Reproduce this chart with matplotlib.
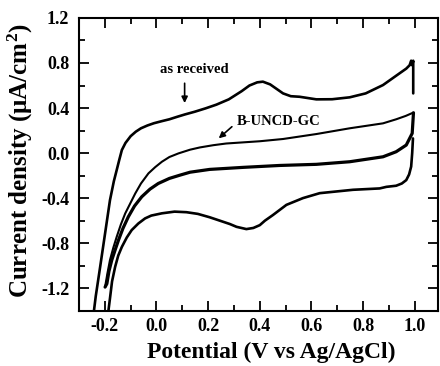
import matplotlib
matplotlib.use("Agg")
import matplotlib.pyplot as plt
from matplotlib.ticker import MultipleLocator

plt.rcParams['font.family'] = ['Liberation Serif', 'DejaVu Serif']
plt.rcParams['font.weight'] = 'bold'
plt.rcParams['mathtext.fontset'] = 'custom'
plt.rcParams['mathtext.rm'] = 'Liberation Serif:bold'
plt.rcParams['mathtext.it'] = 'Liberation Serif:bold'

# as received electrode, forward (anodic) sweep
recv_fwd_x = [-0.242, -0.235, -0.218, -0.199, -0.18, -0.165, -0.154, -0.144, -0.134, -0.12, -0.10, -0.08,
              -0.06, -0.035, -0.01, 0.02, 0.05, 0.08, 0.11, 0.148, 0.19, 0.232, 0.28, 0.33, 0.36, 0.39,
              0.412, 0.44, 0.465, 0.49, 0.52, 0.554, 0.619, 0.68, 0.748, 0.81, 0.877, 0.941, 0.967,
              0.98, 0.986, 0.99, 0.994, 0.994]
recv_fwd_y = [-1.40, -1.27, -1.01, -0.714, -0.418, -0.25, -0.151, -0.06, 0.027, 0.09, 0.15, 0.19,
              0.22, 0.245, 0.265, 0.283, 0.30, 0.322, 0.343, 0.367, 0.397, 0.43, 0.477, 0.55, 0.60, 0.628,
              0.634, 0.61, 0.57, 0.53, 0.505, 0.50, 0.477, 0.478, 0.495, 0.53, 0.604, 0.708, 0.75,
              0.78, 0.82, 0.78, 0.82, 0.53]
# as received electrode, reverse (cathodic) sweep
recv_rev_x = [0.993, 0.99, 0.986, 0.978, 0.967, 0.95, 0.928, 0.89, 0.864, 0.761, 0.632, 0.567, 0.503,
              0.451, 0.42, 0.40, 0.375, 0.348, 0.31, 0.284, 0.245, 0.206, 0.16, 0.116, 0.07, 0.021,
              -0.02, -0.044, -0.07, -0.096, -0.115, -0.134, -0.148, -0.16, -0.172, -0.18, -0.186]
recv_rev_y = [0.13, 0.0, -0.12, -0.19, -0.24, -0.27, -0.29, -0.30, -0.314, -0.326, -0.356, -0.40, -0.46,
              -0.55, -0.60, -0.64, -0.665, -0.675, -0.655, -0.63, -0.60, -0.57, -0.54, -0.525, -0.52,
              -0.535, -0.555, -0.58, -0.625, -0.684, -0.75, -0.833, -0.91, -1.01, -1.14, -1.29, -1.40]

# B-UNCD-GC electrode, forward sweep
bnd_fwd_x = [-0.199, -0.19, -0.18, -0.167, -0.154, -0.138, -0.121, -0.1, -0.082, -0.06, -0.031, -0.005,
             0.021, 0.05, 0.085, 0.13, 0.168, 0.22, 0.27, 0.4, 0.49, 0.619, 0.748, 0.877, 0.928, 0.965,
             0.993]
bnd_fwd_y = [-1.19, -1.07, -0.95, -0.84, -0.744, -0.635, -0.536, -0.44, -0.358, -0.27, -0.18, -0.125,
             -0.077, -0.035, -0.003, 0.03, 0.05, 0.07, 0.085, 0.105, 0.125, 0.169, 0.22, 0.264, 0.3, 0.33,
             0.358]
# B-UNCD-GC electrode, reverse sweep
bnd_rev_x = [0.995, 0.99, 0.967, 0.928, 0.877, 0.748, 0.619, 0.477, 0.335, 0.206, 0.13, 0.091, 0.05,
             0.007, -0.025, -0.057, -0.085, -0.109, -0.13, -0.147, -0.16, -0.173, -0.184, -0.192, -0.199]
bnd_rev_y = [0.358, 0.175, 0.071, 0.012, -0.033, -0.077, -0.1, -0.11, -0.127, -0.145, -0.17, -0.196,
             -0.225, -0.27, -0.32, -0.388, -0.47, -0.566, -0.67, -0.773, -0.86, -0.95, -1.05, -1.16, -1.19]

fig = plt.figure(figsize=(4.4, 3.66), dpi=100)
ax = fig.add_axes([0.1795, 0.151, 0.816, 0.80])

kw = dict(color='black', solid_joinstyle='round', solid_capstyle='round')
ax.plot(recv_fwd_x, recv_fwd_y, lw=1.9, **kw)
ax.plot(recv_rev_x, recv_rev_y, lw=1.9, **kw)
ax.plot(bnd_fwd_x, bnd_fwd_y, lw=1.5, **kw)
ax.plot(bnd_rev_x, bnd_rev_y, lw=2.3, **kw)

ax.set_xlim(-0.3, 1.09)
ax.set_ylim(-1.4, 1.2)
ax.xaxis.set_minor_locator(MultipleLocator(0.1))
ax.yaxis.set_minor_locator(MultipleLocator(0.2))
ax.tick_params(which='both', direction='in', top=True, right=True, width=1.3, labelsize=13)
ax.tick_params(which='major', length=7)
ax.tick_params(which='minor', length=4)
ax.tick_params(axis='x', which='major', pad=5)
ax.tick_params(axis='y', which='major', pad=7)
ax.set_xticks([-0.2, 0.0, 0.2, 0.4, 0.6, 0.8, 1.0])
ax.set_xticklabels(['-0.2', '0.0', '0.2', '0.4', '0.6', '0.8', '1.0'])
ax.set_yticks([-1.2, -0.8, -0.4, 0.0, 0.4, 0.8, 1.2])
ax.set_yticklabels(['-1.2', '-0.8', '-0.4', '0.0', '0.4', '0.8', '1.2'])
for s in ax.spines.values():
    s.set_linewidth(1.5)

ax.set_xlabel('Potential (V vs Ag/AgCl)', fontsize=17, fontweight='bold')
ax.xaxis.set_label_coords(0.535, -0.105)
ax.set_ylabel('Current density ($\\mu$A/cm$^2$)', fontsize=18, fontweight='bold')
ax.yaxis.set_label_coords(-0.122, 0.511)

ax.text(0.148, 0.74, 'as received', ha='center', va='center', fontsize=10.5, fontweight='bold')
ax.annotate('', xy=(0.109, 0.444), xytext=(0.109, 0.62),
            arrowprops=dict(arrowstyle='-|>', color='black', lw=1.2, mutation_scale=9,
                            shrinkA=0, shrinkB=0))
ax.text(0.31, 0.276, 'B-UNCD-GC', ha='left', va='center', fontsize=10.5, fontweight='bold')
ax.annotate('', xy=(0.241, 0.131), xytext=(0.292, 0.234),
            arrowprops=dict(arrowstyle='-|>', color='black', lw=1.2, mutation_scale=9,
                            shrinkA=0, shrinkB=0))

fig.savefig('out.png', dpi=100)
